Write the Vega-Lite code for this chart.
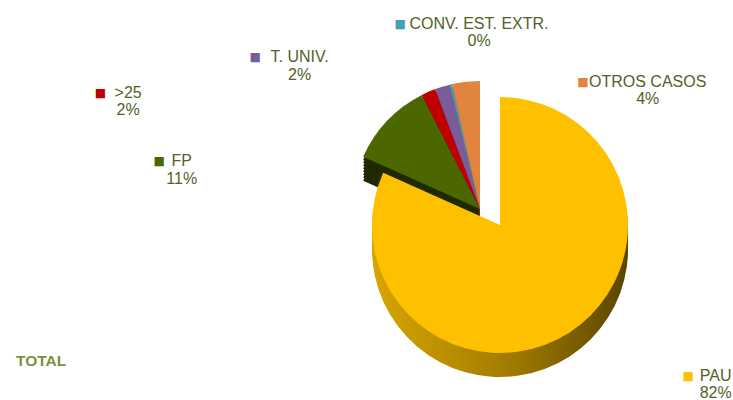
{
  "$schema": "https://vega.github.io/schema/vega-lite/v6.json",
  "width": 466,
  "height": 350,
  "autosize": "none",
  "padding": {"left": 267, "top": 50, "right": 0, "bottom": 0},
  "background": "white",
  "config": {"view": {"stroke": null}},
  "title": {"text": "TOTAL", "orient": "top", "anchor": "start", "frame": "group", "dx": -251, "dy": 358, "fontSize": 15.5, "fontWeight": "bold", "font": "Liberation Sans", "color": "#76923C"},
  "data": {"values": [
    {"name": "PAU", "pct": "82%", "value": 81.7, "orden": 1},
    {"name": "FP", "pct": "11%", "value": 10.8, "orden": 2},
    {"name": ">25", "pct": "2%", "value": 1.8, "orden": 3},
    {"name": "T. UNIV.", "pct": "2%", "value": 1.9, "orden": 4},
    {"name": "CONV. EST. EXTR.", "pct": "0%", "value": 0.3, "orden": 5},
    {"name": "OTROS CASOS", "pct": "4%", "value": 3.5, "orden": 6}
  ]},
  "layer": [
    {
      "encoding": {
        "theta": {"field": "value", "type": "quantitative", "stack": true},
        "order": {"field": "orden", "type": "quantitative"}
      },
      "layer": [
        {"mark": {"type": "arc", "outerRadius": 128, "xOffset": -20, "yOffset": 8},
         "encoding": {"fill": {"field": "name", "type": "nominal", "legend": null, "scale": {"domain": ["PAU", "FP", ">25", "T. UNIV.", "CONV. EST. EXTR.", "OTROS CASOS"], "range": ["#9A7400", "#1F2A00", "#5C0000", "#3E2D52", "#1F5866", "#8A4A1C"]}},
           "opacity": {"condition": {"test": "datum.orden == 1", "value": 0}, "value": 1}}},
        {"mark": {"type": "arc", "outerRadius": 128, "xOffset": -20, "yOffset": 5},
         "encoding": {"fill": {"field": "name", "type": "nominal", "legend": null},
           "opacity": {"condition": {"test": "datum.orden == 1", "value": 0}, "value": 1}}},
        {"mark": {"type": "arc", "outerRadius": 128, "xOffset": -20, "yOffset": 2},
         "encoding": {"fill": {"field": "name", "type": "nominal", "legend": null},
           "opacity": {"condition": {"test": "datum.orden == 1", "value": 0}, "value": 1}}},
        {"mark": {"type": "arc", "outerRadius": 128, "xOffset": -20, "yOffset": -1},
         "encoding": {"fill": {"field": "name", "type": "nominal", "legend": null},
           "opacity": {"condition": {"test": "datum.orden == 1", "value": 0}, "value": 1}}},
        {"mark": {"type": "arc", "outerRadius": 128, "xOffset": -20, "yOffset": -4},
         "encoding": {"fill": {"field": "name", "type": "nominal", "legend": null},
           "opacity": {"condition": {"test": "datum.orden == 1", "value": 0}, "value": 1}}},
        {"mark": {"type": "arc", "outerRadius": 128, "xOffset": -20, "yOffset": -7},
         "encoding": {"fill": {"field": "name", "type": "nominal", "legend": null},
           "opacity": {"condition": {"test": "datum.orden == 1", "value": 0}, "value": 1}}},
        {"mark": {"type": "arc", "outerRadius": 128, "xOffset": -20, "yOffset": -10},
         "encoding": {"fill": {"field": "name", "type": "nominal", "legend": null},
           "opacity": {"condition": {"test": "datum.orden == 1", "value": 0}, "value": 1}}},
        {"mark": {"type": "arc", "outerRadius": 128, "xOffset": -20, "yOffset": -13},
         "encoding": {"fill": {"field": "name", "type": "nominal", "legend": null},
           "opacity": {"condition": {"test": "datum.orden == 1", "value": 0}, "value": 1}}},
        {"mark": {"type": "arc", "outerRadius": 128, "xOffset": -20, "yOffset": -16},
         "encoding": {"color": {"field": "name", "type": "nominal", "legend": null, "scale": {"domain": ["PAU", "FP", ">25", "T. UNIV.", "CONV. EST. EXTR.", "OTROS CASOS"], "range": ["#FFC000", "#4C6600", "#C00000", "#7A5C98", "#45A0B6", "#E0843E"]}},
           "opacity": {"condition": {"test": "datum.orden == 1", "value": 0}, "value": 1}}},
        {"mark": {"type": "arc", "outerRadius": 128, "yOffset": 24, "fill": {"gradient": "linear", "x1": 0, "x2": 1, "y1": 0, "y2": 0, "stops": [{"offset": 0, "color": "#D8A600"}, {"offset": 0.55, "color": "#A07A00"}, {"offset": 1, "color": "#5A4500"}]}},
         "encoding": {"opacity": {"condition": {"test": "datum.orden == 1", "value": 1}, "value": 0}}},
        {"mark": {"type": "arc", "outerRadius": 128, "yOffset": 20, "fill": {"gradient": "linear", "x1": 0, "x2": 1, "y1": 0, "y2": 0, "stops": [{"offset": 0, "color": "#D8A600"}, {"offset": 0.55, "color": "#A07A00"}, {"offset": 1, "color": "#5A4500"}]}},
         "encoding": {"opacity": {"condition": {"test": "datum.orden == 1", "value": 1}, "value": 0}}},
        {"mark": {"type": "arc", "outerRadius": 128, "yOffset": 16, "fill": {"gradient": "linear", "x1": 0, "x2": 1, "y1": 0, "y2": 0, "stops": [{"offset": 0, "color": "#D8A600"}, {"offset": 0.55, "color": "#A07A00"}, {"offset": 1, "color": "#5A4500"}]}},
         "encoding": {"opacity": {"condition": {"test": "datum.orden == 1", "value": 1}, "value": 0}}},
        {"mark": {"type": "arc", "outerRadius": 128, "yOffset": 12, "fill": {"gradient": "linear", "x1": 0, "x2": 1, "y1": 0, "y2": 0, "stops": [{"offset": 0, "color": "#D8A600"}, {"offset": 0.55, "color": "#A07A00"}, {"offset": 1, "color": "#5A4500"}]}},
         "encoding": {"opacity": {"condition": {"test": "datum.orden == 1", "value": 1}, "value": 0}}},
        {"mark": {"type": "arc", "outerRadius": 128, "yOffset": 8, "fill": {"gradient": "linear", "x1": 0, "x2": 1, "y1": 0, "y2": 0, "stops": [{"offset": 0, "color": "#D8A600"}, {"offset": 0.55, "color": "#A07A00"}, {"offset": 1, "color": "#5A4500"}]}},
         "encoding": {"opacity": {"condition": {"test": "datum.orden == 1", "value": 1}, "value": 0}}},
        {"mark": {"type": "arc", "outerRadius": 128, "yOffset": 4, "fill": {"gradient": "linear", "x1": 0, "x2": 1, "y1": 0, "y2": 0, "stops": [{"offset": 0, "color": "#D8A600"}, {"offset": 0.55, "color": "#A07A00"}, {"offset": 1, "color": "#5A4500"}]}},
         "encoding": {"opacity": {"condition": {"test": "datum.orden == 1", "value": 1}, "value": 0}}},
        {"mark": {"type": "arc", "outerRadius": 128},
         "encoding": {"color": {"field": "name", "type": "nominal", "legend": null},
           "opacity": {"condition": {"test": "datum.orden == 1", "value": 1}, "value": 0}}}
      ]
    },
    {
      "encoding": {
        "theta": {"field": "orden", "type": "quantitative", "scale": {"domain": [1, 2, 3, 4, 5, 6], "range": [2.206, 4.884, 5.034, 5.384, 6.175, 7.114]}},
        "radius": {"field": "orden", "type": "quantitative", "scale": {"type": "linear", "zero": false, "domain": [1, 2, 3, 4, 5, 6], "range": [268, 323, 392, 256, 194, 200]}}
      },
      "layer": [
        {"mark": {"type": "text", "dy": -8.5, "align": "center", "baseline": "middle", "fontSize": 16, "font": "Liberation Sans", "fill": "#4F6228"},
         "encoding": {"text": {"field": "name"}}},
        {"mark": {"type": "text", "dy": 9, "align": "center", "baseline": "middle", "fontSize": 16, "font": "Liberation Sans", "fill": "#4F6228"},
         "encoding": {"text": {"field": "pct"}}},
        {"mark": {"type": "text", "dy": -8.5, "align": "right", "baseline": "middle", "fontSize": 12, "font": "DejaVu Sans",
                  "dx": {"expr": "-(10*length(replace(datum.name, regexp('[. ]', 'g'), '')) + 4.45*(length(datum.name) - length(replace(datum.name, regexp('[. ]', 'g'), ''))))/2 - 7"}},
         "encoding": {"text": {"value": "■"}, "color": {"field": "name", "type": "nominal", "legend": null}}}
      ]
    }
  ],
  "resolve": {"scale": {"theta": "independent", "radius": "independent"}}
}
